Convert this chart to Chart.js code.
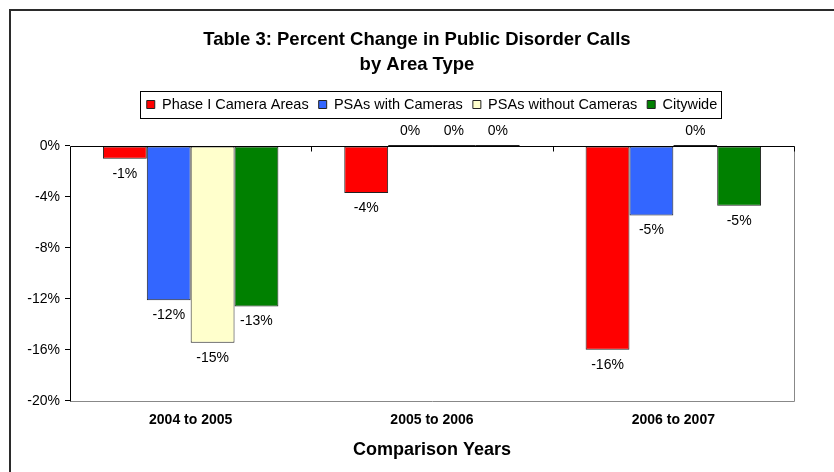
<!DOCTYPE html>
<html>
<head>
<meta charset="utf-8">
<title>Percent Change in Public Disorder Calls</title>
<script src="https://cdn.jsdelivr.net/npm/chart.js@4.4.1/dist/chart.umd.min.js"></script>
<style>
  html, body { margin: 0; padding: 0; background: #fff; }
  #wrap { width: 834px; height: 472px; }
</style>
</head>
<body>
<div id="wrap"><canvas id="chart-area-1" width="834" height="472"></canvas></div>
<script>
var years = ['2004 to 2005', '2005 to 2006', '2006 to 2007'];
var phaseOne = [-1.0, -3.7, -16.0];
var psaWithCams = [-12.1, 0, -5.45];
var psaWithoutCams = [-15.45, 0, 0];
var citywide = [-12.6, 0, -4.7];
var yTicks = [0, -4, -8, -12, -16, -20];

var FONT = 'Arial, "Liberation Sans", sans-serif';

function makeSet(label, data, color){
	return {
		label: label,
		data: data,
		backgroundColor: color,
		borderColor: '#222',
		borderWidth: 1,
		borderSkipped: false,
		minBarLength: 2,
		categoryPercentage: 0.727,
		barPercentage: 1
	};
}

// frame, axis lines, legend box and value labels
var decor = {
	id: 'decor',
	beforeDraw: function(chart){
		var c = chart.ctx;
		c.save();
		c.fillStyle = '#fff';
		c.fillRect(0, 0, chart.width, chart.height);
		c.fillStyle = '#2b2b2b';
		c.fillRect(9, 9, chart.width - 9, 2);
		c.fillRect(9, 9, 2, chart.height - 9);
		c.restore();
	},
	afterDraw: function(chart){
		var c = chart.ctx;
		var a = chart.chartArea;
		var y = chart.scales.y;
		var x = chart.scales.x;
		var y0 = Math.round(y.getPixelForValue(0)) + 0.5;
		var yb = Math.round(y.getPixelForValue(-20)) + 0.5;
		var l = Math.round(a.left) + 0.5;
		var r = Math.round(a.right) + 0.5;
		c.save();
		c.lineWidth = 1;
		c.strokeStyle = '#888';
		c.beginPath();
		c.moveTo(r, y0); c.lineTo(r, yb); c.lineTo(l, yb);
		c.stroke();
		c.strokeStyle = '#000';
		c.beginPath();
		c.moveTo(l, yb); c.lineTo(l, y0); c.lineTo(r, y0);
		// category separators on the zero line
		for (var i = 0; i < years.length; i++){
			var bx = i < years.length - 1
				? (x.getPixelForTick(i) + x.getPixelForTick(i + 1)) / 2
				: a.right;
			bx = Math.round(bx) + 0.5;
			c.moveTo(bx, y0); c.lineTo(bx, y0 + 5);
		}
		c.stroke();

		// box round the legend items
		var hb = chart.legend.legendHitBoxes;
		if (hb && hb.length){
			var last = hb[hb.length - 1];
			var bl = Math.round(hb[0].left - 7) + 0.5;
			var br = Math.round(last.left + last.width + 4) + 0.5;
			var bt = Math.round(hb[0].top - 6) + 0.5;
			var bbt = Math.round(hb[0].top + hb[0].height + 6) + 0.5;
			c.strokeStyle = '#000';
			c.strokeRect(bl, bt, br - bl, bbt - bt);
		}

		// value labels
		c.fillStyle = '#000';
		c.font = '14px ' + FONT;
		c.textAlign = 'center';
		c.textBaseline = 'middle';
		chart.data.datasets.forEach(function(ds, di){
			chart.getDatasetMeta(di).data.forEach(function(el, i){
				var v = ds.data[i];
				var txt = (Math.round(v) || 0) + '%';
				var ty = v < 0 ? el.y + 15 : Math.min(el.y, el.base) - 14;
				c.fillText(txt, el.x, ty);
			});
		});
		c.restore();
	}
};

var ctx = document.getElementById('chart-area-1').getContext('2d');
window.myBar = new Chart(ctx, {
	type: 'bar',
	data: {
		labels: years,
		datasets: [
			makeSet('Phase I Camera Areas', phaseOne, '#FF0000'),
			makeSet('PSAs with Cameras', psaWithCams, '#3366FF'),
			makeSet('PSAs without Cameras', psaWithoutCams, '#FFFFCC'),
			makeSet('Citywide', citywide, '#008000')
		]
	},
	options: {
		responsive: false,
		animation: false,
		layout: { padding: { top: 27.5, left: 18, right: 18, bottom: 5.4 } },
		plugins: {
			title: {
				display: true,
				text: ['Table 3: Percent Change in Public Disorder Calls', 'by Area Type'],
				color: '#000',
				font: { family: FONT, size: 18.5, weight: 'bold', lineHeight: 25 / 18.5 },
				padding: { top: 0, bottom: 9.75 }
			},
			legend: {
				position: 'top',
				fullSize: false,
				labels: {
					color: '#000',
					font: { family: FONT, size: 14.5 },
					boxWidth: 8,
					boxHeight: 8,
					padding: 10
				}
			},
			tooltip: { enabled: false }
		},
		scales: {
			x: {
				grid: { display: false, drawTicks: false },
				border: { display: false },
				ticks: {
					color: '#000',
					font: { family: FONT, size: 14, weight: 'bold' },
					padding: 11
				},
				title: {
					display: true,
					text: 'Comparison Years',
					color: '#000',
					font: { family: FONT, size: 18, weight: 'bold' },
					padding: { top: 0, bottom: 5.4 }
				}
			},
			y: {
				min: -20,
				max: 1.9,
				afterBuildTicks: function(s){
					s.ticks = yTicks.map(function(v){ return { value: v }; });
				},
				afterFit: function(s){ s.width = 52; },
				grid: { drawOnChartArea: false, drawTicks: true, tickLength: 5, tickColor: '#000', color: '#000' },
				border: { display: false },
				ticks: {
					color: '#000',
					font: { family: FONT, size: 14 },
					padding: 5,
					callback: function(v){ return v + '%'; }
				}
			},
			// empty right-hand margin beside the plot
			yRight: {
				position: 'right',
				grid: { display: false },
				border: { display: false },
				ticks: { display: false },
				afterFit: function(s){ s.width = 22; }
			}
		}
	},
	plugins: [decor]
});
</script>
</body>
</html>
